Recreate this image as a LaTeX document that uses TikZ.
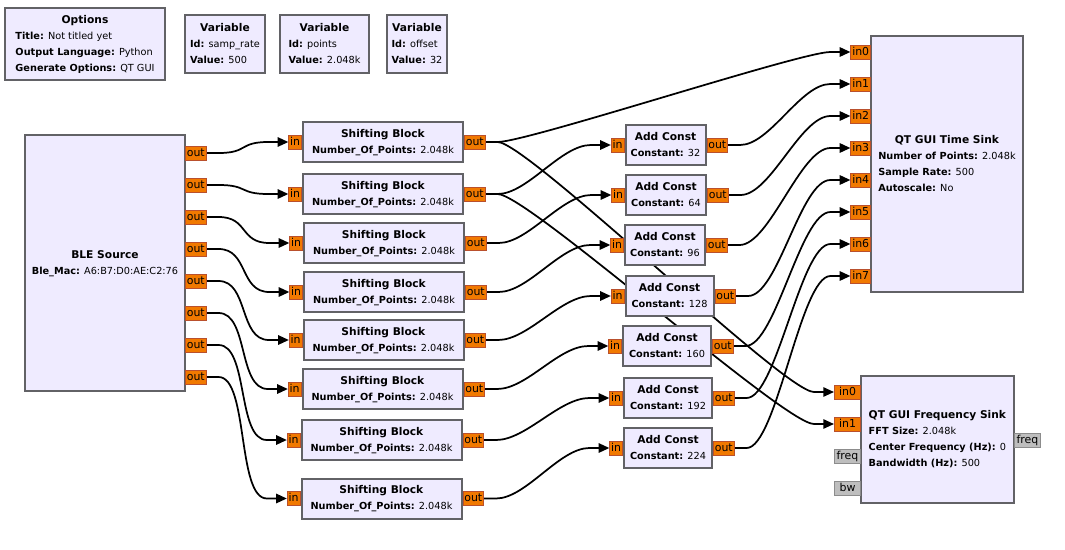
\documentclass[tikz,border=0pt]{standalone}
\usepackage{fontspec}
\setmainfont{DejaVu Sans}
\usetikzlibrary{arrows.meta}

\definecolor{blkfill}{RGB}{239,235,255}
\definecolor{blkline}{RGB}{98,98,102}
\definecolor{portfill}{RGB}{241,121,0}
\definecolor{portline}{RGB}{185,80,45}
\definecolor{msgfill}{RGB}{190,190,190}
\definecolor{msgline}{RGB}{140,140,140}

\pgfdeclarelayer{wires}
\pgfsetlayers{wires,main}

\newcommand{\blktitle}[1]{{\fontsize{8}{12}\selectfont\textbf{#1}}}

\tikzset{every picture/.style={line width=0.75pt}}
\tikzset{
  blk/.style={draw=blkline, fill=blkfill, line width=1.5pt, inner sep=0pt, font=\fontsize{7.3}{12}\selectfont},
  port/.style={draw=portline, fill=portfill, line width=0.75pt, inner xsep=1pt, inner ysep=0pt, minimum height=10.5pt, text height=6pt, text depth=1.5pt, font=\fontsize{8.2}{9}\selectfont},
  msgport/.style={port, draw=msgline, fill=msgfill},
  wire/.style={line width=1.3pt, -{Triangle[length=8pt,width=7pt]}, to path={-- ++(12,0) .. controls +(30,0) and +(-30,0) .. ([xshift=-15pt]\tikztotarget) -- (\tikztotarget)}}
}

\begin{document}
\begin{tikzpicture}[x=0.75pt,y=0.75pt,yscale=-1,xscale=1]
\useasboundingbox (0,0) rectangle (1065,550);

% Options and variables
\node[blk, minimum width=120pt, minimum height=54pt] (opts) at (85,44) {\begin{tabular}{@{}l@{}}\multicolumn{1}{@{}c@{}}{\blktitle{Options}}\\ \textbf{Title:} Not titled yet\\ \textbf{Output Language:} Python\\ \textbf{Generate Options:} QT GUI\end{tabular}};
\node[blk, minimum width=60pt, minimum height=43.5pt] (var1) at (225,44) {\begin{tabular}{@{}l@{}}\multicolumn{1}{@{}c@{}}{\blktitle{Variable}}\\ \textbf{Id:} samp\_rate\\ \textbf{Value:} 500\end{tabular}};
\node[blk, minimum width=66.75pt, minimum height=43.5pt] (var2) at (324.5,44) {\begin{tabular}{@{}l@{}}\multicolumn{1}{@{}c@{}}{\blktitle{Variable}}\\ \textbf{Id:} points\\ \textbf{Value:} 2.048k\end{tabular}};
\node[blk, minimum width=45pt, minimum height=43.5pt] (var3) at (417,44) {\begin{tabular}{@{}l@{}}\multicolumn{1}{@{}c@{}}{\blktitle{Variable}}\\ \textbf{Id:} offset\\ \textbf{Value:} 32\end{tabular}};

% BLE Source
\node[blk, minimum width=120pt, minimum height=192pt] (ble) at (105,263) {\begin{tabular}{@{}c@{}}\blktitle{BLE Source}\\ \textbf{Ble\_Mac:} A6:B7:D0:AE:C2:76\end{tabular}};
\foreach \k in {1,...,8}
  \node[port, anchor=west] (bo\k) at (185,{153+32*(\k-1)}) {out};

% Shifting Blocks
\node[blk, minimum width=120pt, minimum height=30pt] (sb1) at (383,142) {\begin{tabular}{@{}c@{}}\blktitle{Shifting Block}\\ \textbf{Number\_Of\_Points:} 2.048k\end{tabular}};
\node[blk, minimum width=120pt, minimum height=30pt] (sb2) at (383,194) {\begin{tabular}{@{}c@{}}\blktitle{Shifting Block}\\ \textbf{Number\_Of\_Points:} 2.048k\end{tabular}};
\node[blk, minimum width=120pt, minimum height=30pt] (sb3) at (384,243) {\begin{tabular}{@{}c@{}}\blktitle{Shifting Block}\\ \textbf{Number\_Of\_Points:} 2.048k\end{tabular}};
\node[blk, minimum width=120pt, minimum height=30pt] (sb4) at (384,292) {\begin{tabular}{@{}c@{}}\blktitle{Shifting Block}\\ \textbf{Number\_Of\_Points:} 2.048k\end{tabular}};
\node[blk, minimum width=120pt, minimum height=30pt] (sb5) at (383.5,340) {\begin{tabular}{@{}c@{}}\blktitle{Shifting Block}\\ \textbf{Number\_Of\_Points:} 2.048k\end{tabular}};
\node[blk, minimum width=120pt, minimum height=30pt] (sb6) at (382.5,389) {\begin{tabular}{@{}c@{}}\blktitle{Shifting Block}\\ \textbf{Number\_Of\_Points:} 2.048k\end{tabular}};
\node[blk, minimum width=120pt, minimum height=30pt] (sb7) at (381.5,440) {\begin{tabular}{@{}c@{}}\blktitle{Shifting Block}\\ \textbf{Number\_Of\_Points:} 2.048k\end{tabular}};
\node[blk, minimum width=120pt, minimum height=30pt] (sb8) at (381.5,498.5) {\begin{tabular}{@{}c@{}}\blktitle{Shifting Block}\\ \textbf{Number\_Of\_Points:} 2.048k\end{tabular}};
\foreach \k in {1,...,8} {
  \node[port, anchor=east] (si\k) at (sb\k.west) {in};
  \node[port, anchor=west] (so\k) at (sb\k.east) {out};
}

% Add Const blocks
\node[blk, minimum width=60pt, minimum height=30pt] (ac1) at (665.5,145) {\begin{tabular}{@{}l@{}}\multicolumn{1}{@{}c@{}}{\blktitle{Add Const}}\\ \textbf{Constant:} 32\end{tabular}};
\node[blk, minimum width=60pt, minimum height=30pt] (ac2) at (666,195) {\begin{tabular}{@{}l@{}}\multicolumn{1}{@{}c@{}}{\blktitle{Add Const}}\\ \textbf{Constant:} 64\end{tabular}};
\node[blk, minimum width=60pt, minimum height=30pt] (ac3) at (665,245) {\begin{tabular}{@{}l@{}}\multicolumn{1}{@{}c@{}}{\blktitle{Add Const}}\\ \textbf{Constant:} 96\end{tabular}};
\node[blk, minimum width=66pt, minimum height=30pt] (ac4) at (669.5,296) {\begin{tabular}{@{}l@{}}\multicolumn{1}{@{}c@{}}{\blktitle{Add Const}}\\ \textbf{Constant:} 128\end{tabular}};
\node[blk, minimum width=66pt, minimum height=30pt] (ac5) at (667,346) {\begin{tabular}{@{}l@{}}\multicolumn{1}{@{}c@{}}{\blktitle{Add Const}}\\ \textbf{Constant:} 160\end{tabular}};
\node[blk, minimum width=66pt, minimum height=30pt] (ac6) at (668,398) {\begin{tabular}{@{}l@{}}\multicolumn{1}{@{}c@{}}{\blktitle{Add Const}}\\ \textbf{Constant:} 192\end{tabular}};
\node[blk, minimum width=66pt, minimum height=30pt] (ac7) at (668,448) {\begin{tabular}{@{}l@{}}\multicolumn{1}{@{}c@{}}{\blktitle{Add Const}}\\ \textbf{Constant:} 224\end{tabular}};
\foreach \k in {1,...,7} {
  \node[port, anchor=east] (ai\k) at (ac\k.west) {in};
  \node[port, anchor=west] (ao\k) at (ac\k.east) {out};
}

% QT GUI Time Sink
\node[blk, minimum width=114pt, minimum height=192pt] (tsink) at (947,164) {\begin{tabular}{@{}l@{}}\multicolumn{1}{@{}c@{}}{\blktitle{QT GUI Time Sink}}\\ \textbf{Number of Points:} 2.048k\\ \textbf{Sample Rate:} 500\\ \textbf{Autoscale:} No\end{tabular}};
\foreach \k in {0,...,7}
  \node[port, anchor=east] (ti\k) at (871,{52+32*\k}) {in\k};

% QT GUI Frequency Sink
\node[blk, minimum width=114.75pt, minimum height=95.25pt] (fsink) at (937.5,439.5) {\begin{tabular}{@{}l@{}}\multicolumn{1}{@{}c@{}}{\blktitle{QT GUI Frequency Sink}}\\ \textbf{FFT Size:} 2.048k\\ \textbf{Center Frequency (Hz):} 0\\ \textbf{Bandwidth (Hz):} 500\end{tabular}};
\node[port, anchor=east, minimum width=19.5pt] (fi0) at (861,392) {in0};
\node[port, anchor=east, minimum width=19.5pt] (fi1) at (861,424) {in1};
\node[msgport, anchor=east, minimum width=19.5pt] (ffreq) at (861,456) {freq};
\node[msgport, anchor=east, minimum width=19.5pt] (fbw) at (861,488) {bw};
\node[msgport, anchor=west, minimum width=19.5pt] (fout) at (1014,440) {freq};

% Connections
\begin{pgfonlayer}{wires}
\foreach \k in {1,...,8}
  \draw[wire] (bo\k.east) to (si\k.west);
\draw[wire] (so1.east) to (ti0.west);
\draw[wire] (so1.east) to (fi0.west);
\draw[wire] (so2.east) to (fi1.west);
\foreach \j [count=\k] in {2,...,8}
  \draw[wire] (so\j.east) to (ai\k.west);
\foreach \k in {1,...,7}
  \draw[wire] (ao\k.east) to (ti\k.west);
\end{pgfonlayer}

\end{tikzpicture}
\end{document}
